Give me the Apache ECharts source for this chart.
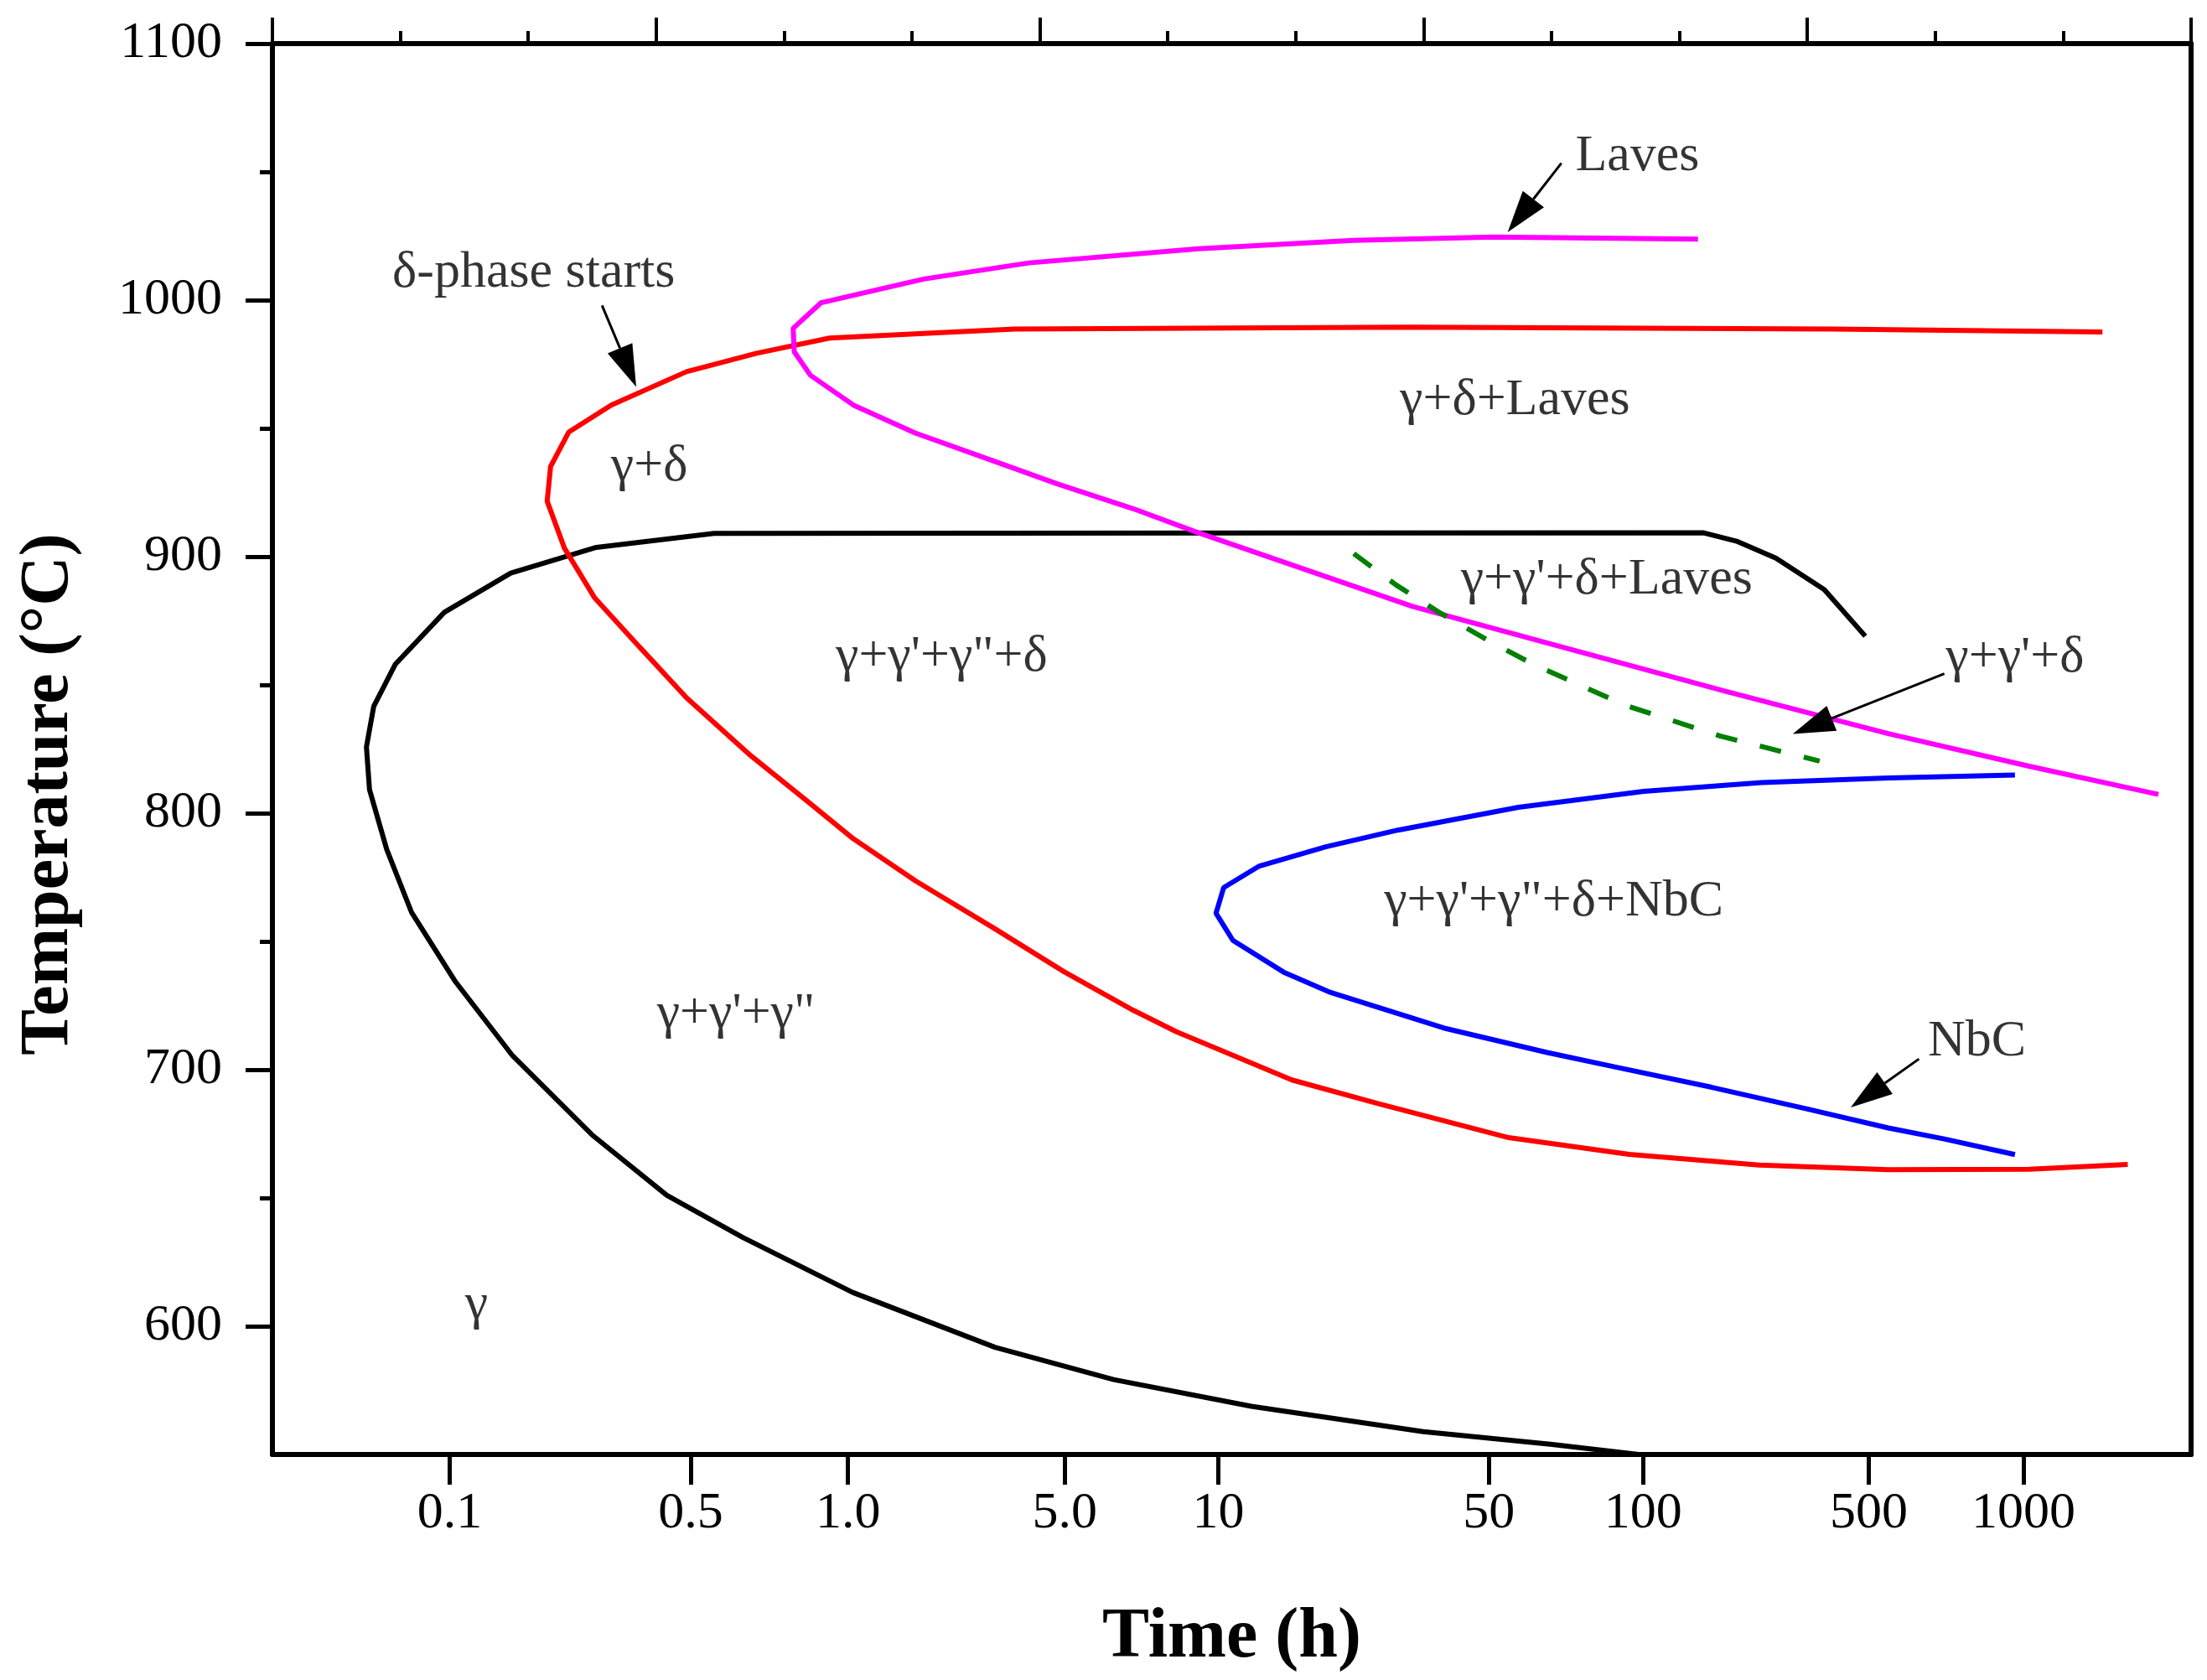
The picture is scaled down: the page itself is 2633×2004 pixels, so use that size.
<!DOCTYPE html>
<html>
<head>
<meta charset="utf-8">
<title>TTT diagram</title>
<script src="https://cdn.jsdelivr.net/npm/echarts@6.0.0/dist/echarts.min.js"></script>
<style>
  html, body { margin: 0; padding: 0; background: #fff; }
  #chart { width: 2633px; height: 2004px; }
</style>
</head>
<body>
<div id="chart"></div>
<script>
// x is the plot's own linear time position (0..5, same scale as the top axis),
// bottom labels are placed by hand at the positions below
const timeTickPos = [0.462, 1.09, 1.5, 2.065, 2.465, 3.17, 3.572, 4.16, 4.563];
const timeTickLabels = ['0.1', '0.5', '1.0', '5.0', '10', '50', '100', '500', '1000'];
const tempTicks = [600, 700, 800, 900, 1000, 1100];
const tempMinorTicks = [650, 750, 850, 950, 1050];

// gamma' + gamma'' start (black)
const gammaPrimeCurve = [
  [4.151, 869.0], [4.044, 887.2], [3.918, 899.4], [3.818, 905.9], [3.730, 909.3],
  [2.595, 909.2], [1.151, 909.1], [0.844, 903.6], [0.621, 893.6], [0.448, 878.3],
  [0.320, 858.0], [0.264, 841.6], [0.245, 825.8], [0.253, 809.2], [0.298, 785.8],
  [0.363, 761.2], [0.477, 734.3], [0.624, 705.8], [0.833, 674.6], [1.028, 651.0],
  [1.226, 634.6], [1.512, 613.2], [1.883, 591.8], [2.192, 579.2], [2.551, 568.8],
  [2.999, 558.9], [3.330, 554.0], [3.561, 550.0]
];

// delta-phase start (red)
const deltaCurve = [
  [4.769, 987.6], [4.064, 988.7], [2.963, 989.5], [1.935, 988.7], [1.742, 987.3],
  [1.452, 985.2], [1.262, 979.3], [1.079, 972.1], [0.883, 959.1], [0.772, 948.5],
  [0.725, 935.2], [0.716, 921.6], [0.761, 903.3], [0.839, 884.1], [0.956, 864.9],
  [1.079, 845.0], [1.246, 822.5], [1.391, 805.0], [1.514, 790.0], [1.675, 773.7],
  [1.880, 755.2], [2.063, 738.2], [2.243, 723.2], [2.356, 714.8], [2.657, 696.0],
  [2.883, 686.7], [3.222, 673.5], [3.536, 667.0], [3.875, 662.8], [4.211, 661.0],
  [4.578, 661.2], [4.835, 663.1]
];

// Laves (magenta)
const lavesCurve = [
  [3.715, 1023.8], [3.183, 1024.6], [2.816, 1023.3], [2.412, 1020.0], [1.971, 1014.5],
  [1.697, 1008.2], [1.430, 999.0], [1.357, 989.0], [1.360, 979.8], [1.402, 970.7],
  [1.514, 959.1], [1.675, 948.2], [1.861, 938.3], [2.045, 928.4], [2.243, 918.7],
  [2.406, 909.7], [2.971, 880.6], [3.448, 861.2], [3.787, 847.5], [4.211, 831.0],
  [4.578, 818.3], [4.915, 807.3]
];

// NbC (blue)
const nbcCurve = [
  [4.541, 814.9], [4.211, 813.7], [3.880, 811.9], [3.573, 808.5], [3.247, 802.3],
  [2.933, 793.4], [2.745, 786.9], [2.572, 779.4], [2.479, 771.0], [2.459, 761.0],
  [2.503, 750.4], [2.638, 737.8], [2.758, 730.1], [3.059, 716.0], [3.322, 706.7],
  [3.498, 701.1], [3.749, 693.2], [4.000, 684.7], [4.211, 677.3], [4.357, 673.0],
  [4.541, 666.9]
];

// gamma'' dissolution (green dashed)
const gammaDoublePrimeEnd = [
  [2.818, 901.2], [2.927, 889.1], [3.046, 877.8], [3.166, 867.5], [3.285, 858.1],
  [3.523, 842.2], [3.774, 830.0], [4.032, 820.3]
];

const regionNames = ['γ+δ', 'γ+δ+Laves', "γ+γ'+δ+Laves", "γ+γ'+γ\"+δ", "γ+γ'+δ",
  "γ+γ'+γ\"+δ+NbC", "γ+γ'+γ\"", 'NbC', 'γ', 'Laves', 'δ-phase starts'];
const regionPos = [
  [0.982, 934.9], [3.238, 960.8], [3.477, 890.9], [1.744, 861.0], [4.541, 860.4],
  [3.339, 765.4], [1.208, 721.7], [4.442, 710.8], [0.532, 608.3], [3.557, 1056.1],
  [0.681, 1010.5]
];

// arrows: [fromX, fromT, toX, toT]
const arrows = [
  [3.359, 1053.4, 3.219, 1026.5],
  [0.859, 997.9, 0.948, 966.2],
  [4.357, 854.4, 3.962, 830.9],
  [4.291, 704.2, 4.113, 685.3]
];

const font = 'Liberation Serif';
const myChart = echarts.init(document.getElementById('chart'));

function curve(name, data, color, dashed) {
  return {
    name: name,
    type: 'line',
    data: data,
    symbol: 'none',
    smooth: false,
    lineStyle: { color: color, width: 6, type: dashed ? [26, 28] : 'solid' },
    z: 3
  };
}

const option = {
  backgroundColor: '#fff',
  animation: false,
  textStyle: { fontFamily: font, color: '#000' },
  grid: { left: 325, right: 19, top: 52, bottom: 269, containLabel: false },
  xAxis: [
    {
      type: 'value',
      min: 0,
      max: 5,
      position: 'bottom',
      name: 'Time (h)',
      nameLocation: 'middle',
      nameGap: 177,
      nameTextStyle: { fontFamily: font, fontSize: 84, fontWeight: 'bold', color: '#000' },
      axisLine: { lineStyle: { color: '#000', width: 6 } },
      axisTick: { customValues: timeTickPos, length: 36, lineStyle: { color: '#000', width: 5 } },
      axisLabel: {
        customValues: timeTickPos,
        margin: 40,
        fontSize: 62,
        fontFamily: font,
        color: '#000',
        formatter: (v) => {
          let best = 0;
          timeTickPos.forEach((p, i) => {
            if (Math.abs(p - v) < Math.abs(timeTickPos[best] - v)) best = i;
          });
          return timeTickLabels[best];
        }
      },
      splitLine: { show: false }
    },
    {
      type: 'value',
      min: 0,
      max: 5,
      interval: 1,
      position: 'top',
      axisLine: { lineStyle: { color: '#000', width: 6 } },
      axisTick: { length: 31, lineStyle: { color: '#000', width: 4 } },
      minorTick: { show: true, splitNumber: 3, length: 15, lineStyle: { color: '#000', width: 4 } },
      axisLabel: { show: false },
      splitLine: { show: false }
    }
  ],
  yAxis: [
    {
      type: 'value',
      min: 550,
      max: 1100,
      position: 'left',
      name: 'Temperature (°C)',
      nameLocation: 'middle',
      nameGap: 225,
      nameTextStyle: {
        fontFamily: font, fontSize: 82, fontWeight: 'bold', color: '#000',
        padding: [0, 108, 0, 0]
      },
      axisLine: { show: true, lineStyle: { color: '#000', width: 6 } },
      axisTick: { customValues: tempTicks, length: 32, lineStyle: { color: '#000', width: 5 } },
      axisLabel: {
        customValues: tempTicks, margin: 60, fontSize: 62, fontFamily: font, color: '#000',
        formatter: (v) => String(v)
      },
      splitLine: { show: false }
    },
    {
      type: 'value',
      min: 550,
      max: 1100,
      position: 'left',
      axisLine: { show: false },
      axisTick: { customValues: tempMinorTicks, length: 15, lineStyle: { color: '#000', width: 5 } },
      axisLabel: { show: false },
      splitLine: { show: false }
    },
    {
      type: 'value',
      min: 550,
      max: 1100,
      position: 'right',
      axisLine: { show: true, lineStyle: { color: '#000', width: 6 } },
      axisTick: { show: false },
      axisLabel: { show: false },
      splitLine: { show: false }
    }
  ],
  series: [
    curve('gamma prime start', gammaPrimeCurve, '#000000', false),
    curve('delta start', deltaCurve, '#ff0000', false),
    curve('Laves', lavesCurve, '#ff00ff', false),
    curve('NbC', nbcCurve, '#0000ff', false),
    curve("gamma'' end", gammaDoublePrimeEnd, '#008000', true),
    {
      name: 'labels',
      type: 'scatter',
      symbolSize: 0,
      itemStyle: { color: '#000' },
      data: regionNames.map((n, i) => ({ name: n, value: regionPos[i] })),
      label: {
        show: true,
        position: [0, 0],
        align: 'center',
        verticalAlign: 'middle',
        formatter: '{b}',
        fontFamily: font,
        fontSize: 62,
        color: '#000',
        textBorderWidth: 0
      },
      z: 5
    },
    {
      name: 'arrows',
      type: 'custom',
      data: arrows,
      renderItem: (params, api) => {
        const p1 = api.coord([api.value(0), api.value(1)]);
        const p2 = api.coord([api.value(2), api.value(3)]);
        const dx = p2[0] - p1[0];
        const dy = p2[1] - p1[1];
        const len = Math.sqrt(dx * dx + dy * dy);
        const ux = dx / len;
        const uy = dy / len;
        const headLen = 50;
        const headW = 16;
        const bx = p2[0] - ux * headLen;
        const by = p2[1] - uy * headLen;
        return {
          type: 'group',
          children: [
            {
              type: 'line',
              shape: { x1: p1[0], y1: p1[1], x2: bx, y2: by },
              style: { stroke: '#000', lineWidth: 3 }
            },
            {
              type: 'polygon',
              shape: { points: [p2, [bx - uy * headW, by + ux * headW], [bx + uy * headW, by - ux * headW]] },
              style: { fill: '#000' }
            }
          ]
        };
      },
      z: 6
    }
  ]
};
myChart.setOption(option);
</script>
</body>
</html>
